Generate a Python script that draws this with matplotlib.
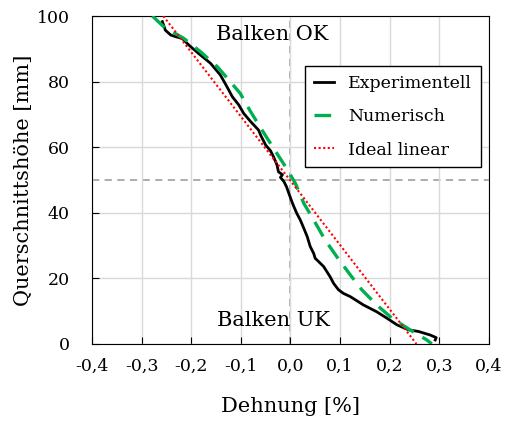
import matplotlib
matplotlib.use('Agg')
import matplotlib.pyplot as plt

# Experimentell (black)
exp_x = [-0.258, -0.252, -0.241, -0.231, -0.218, -0.205, -0.185, -0.161, -0.141, -0.128,
         -0.117, -0.104, -0.094, -0.080, -0.064, -0.060, -0.050, -0.040, -0.034, -0.027,
         -0.024, -0.016, -0.020, -0.013, -0.008, -0.003, 0.003, 0.007,
         0.013, 0.020, 0.027, 0.034, 0.037, 0.040, 0.047, 0.050, 0.057, 0.067,
         0.080, 0.087, 0.097, 0.107, 0.121, 0.147, 0.174, 0.195, 0.215, 0.238,
         0.258, 0.282, 0.294, 0.292]
exp_y = [98.3, 95.7, 94.2, 93.7, 93.2, 91.2, 88.6, 85.6, 82.0, 78.5,
         75.4, 72.9, 70.3, 67.8, 65.2, 63.7, 60.7, 58.9, 57.1, 54.6,
         52.5, 51.6, 50.8, 49.5, 48.0, 45.9, 43.4, 41.9,
         39.8, 37.8, 35.3, 32.7, 31.2, 29.7, 27.6, 26.1, 25.1, 23.6,
         20.5, 18.5, 16.5, 15.4, 14.4, 11.9, 9.8, 7.8, 5.8, 4.3,
         3.8, 2.7, 1.9, 1.2]

# Numerisch (green dashed)
num_x = [-0.278, -0.255, -0.215, -0.181, -0.147, -0.124, -0.101, -0.080, -0.057, -0.034,
         -0.010, 0.010, 0.027, 0.047, 0.070, 0.094, 0.121, 0.144, 0.174, 0.205,
         0.241, 0.275, 0.285]
num_y = [100.0, 96.7, 93.2, 89.1, 84.5, 80.5, 76.4, 70.8, 65.2, 59.7,
         54.1, 49.0, 42.9, 37.8, 31.7, 26.5, 21.0, 16.5, 11.9, 7.8,
         4.3, 1.2, 0.0]

# Ideal linear (red dotted)
lin_x = [-0.256, 0.254]
lin_y = [100.0, 0.0]

xticks = [-0.4, -0.3, -0.2, -0.1, 0.0, 0.1, 0.2, 0.3, 0.4]
xticklabels = ['-0,4', '-0,3', '-0,2', '-0,1', '0,0', '0,1', '0,2', '0,3', '0,4']
yticks = [0, 20, 40, 60, 80, 100]

plt.rcParams['font.family'] = ['DejaVu Serif']

fig = plt.figure(figsize=(5.05, 4.23), dpi=100)
ax = fig.add_axes([0.182, 0.187, 0.786, 0.775])

ax.grid(True, color='#d9d9d9', linewidth=1.0, zorder=0)
ax.axvline(0, color='#a6a6a6', linestyle=(0, (4, 3)), linewidth=1.3, zorder=1)
ax.axhline(50, color='#a6a6a6', linestyle=(0, (4, 3)), linewidth=1.3, zorder=1)

ax.plot(exp_x, exp_y, color='black', linewidth=2.0, label='Experimentell', zorder=3)
ax.plot(num_x, num_y, color='#00b050', linewidth=2.4, linestyle=(0, (5, 3)),
        label='Numerisch', zorder=4)
ax.plot(lin_x, lin_y, color='red', linewidth=1.5, linestyle=(0, (1, 1.2)),
        label='Ideal linear', zorder=5)

ax.text(-0.037, 94.5, 'Balken OK', fontsize=15, ha='center', va='center')
ax.text(-0.035, 7, 'Balken UK', fontsize=15, ha='center', va='center')

ax.set_xlim(-0.4, 0.4)
ax.set_ylim(0, 100)
ax.set_xticks(xticks)
ax.set_xticklabels(xticklabels)
ax.set_yticks(yticks)
ax.tick_params(direction='in', length=5, labelsize=12.5)
ax.tick_params(axis='x', pad=10)
ax.tick_params(axis='y', pad=16)
ax.set_xlabel('Dehnung [%]', fontsize=15, labelpad=16)
ax.set_ylabel('Querschnittshöhe [mm]', fontsize=15, labelpad=3)

leg = ax.legend(loc='upper right', bbox_to_anchor=(0.98, 0.848), fontsize=12.5,
                handlelength=1.2, labelspacing=0.95, fancybox=False,
                edgecolor='black', framealpha=1, borderpad=0.5, borderaxespad=0)
leg.get_frame().set_linewidth(1.0)

fig.savefig('out.png', dpi=100)
